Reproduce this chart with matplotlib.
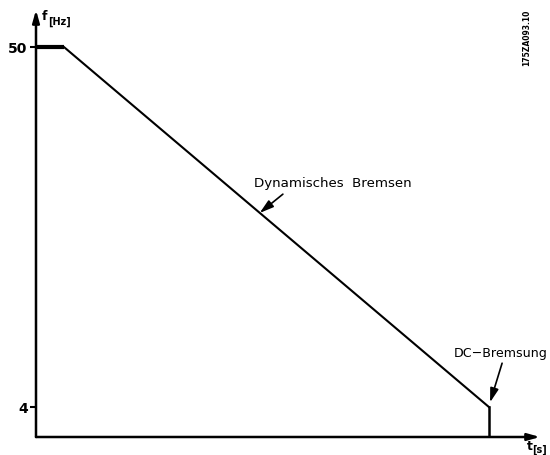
import matplotlib
matplotlib.use('Agg')
import matplotlib.pyplot as plt

# ramp: hold at 50 Hz, dynamic braking down to 4 Hz, then DC braking
hold_t = [0, 1.0]
hold_f = [50, 50]
ramp_t = [1.0, 16.2]
ramp_f = [50, 4]
dc_t = [16.2, 16.2]
dc_f = [4, 0.17]
ytick_vals = [50, 4]
ytick_labels = ['50', '4']

fig = plt.figure(figsize=(5.5, 4.55), dpi=100)
ax = fig.add_axes([36 / 550, 18 / 455, 504 / 550, 427 / 455])
ax.set_xlim(0, 504 / 27.96)
ax.set_ylim(0.17, 0.17 + 427 / 7.826)
for s in ax.spines.values():
    s.set_visible(False)
ax.set_xticks([])
ax.set_yticks(ytick_vals)
ax.set_yticklabels(ytick_labels, fontsize=10, fontweight='bold')
ax.tick_params(axis='y', length=4, width=1.5, pad=2)

axis_arrow = dict(arrowstyle='-|>,head_width=0.17,head_length=0.6', lw=1.8,
                  color='black', mutation_scale=12, shrinkA=0, shrinkB=0)
ax.annotate('', xy=(0, 1.0), xytext=(0, 0), xycoords='axes fraction',
            arrowprops=axis_arrow)
ax.annotate('', xy=(1.0, 0), xytext=(0, 0), xycoords='axes fraction',
            arrowprops=axis_arrow)

ax.plot(hold_t, hold_f, color='black', lw=3, solid_capstyle='butt')
ax.plot(ramp_t, ramp_f, color='black', lw=1.5)
ax.plot(dc_t, dc_f, color='black', lw=1.8)

# axis labels
fig.text(42 / 550, 1 - 17 / 455, 'f', fontsize=9, fontweight='bold', va='center')
fig.text(48 / 550, 1 - 22 / 455, '[Hz]', fontsize=7, fontweight='bold', va='center')
fig.text(527 / 550, 1 - 447 / 455, 't', fontsize=9, fontweight='bold', va='center')
fig.text(532 / 550, 1 - 450 / 455, '[s]', fontsize=7, fontweight='bold', va='center')

# annotations
pointer = dict(arrowstyle='-|>,head_width=0.18,head_length=0.6', lw=1.2,
               color='black', mutation_scale=14, shrinkA=0, shrinkB=0)
ax.text(7.8, 32.5, 'Dynamisches  Bremsen', fontsize=9.6, va='center')
ax.annotate('', xy=(8.0, 28.8), xytext=(8.83, 31.2), arrowprops=pointer)
ax.text(14.95, 10.9, 'DC\u2212Bremsung', fontsize=9.1, va='center')
ax.annotate('', xy=(16.24, 4.6), xytext=(16.67, 9.6), arrowprops=pointer)

fig.text(527 / 550, 1 - 38 / 455, '175ZA093.10', fontsize=5.5, fontweight='bold',
         rotation=90, ha='center', va='center')

fig.savefig('out.png', dpi=100)
